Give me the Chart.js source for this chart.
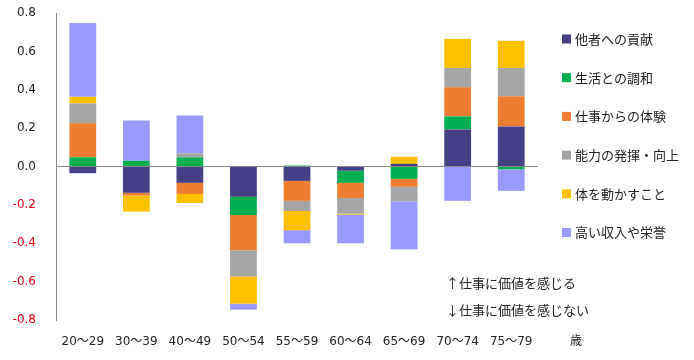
<!DOCTYPE html>
<html>
<head>
<meta charset="utf-8">
<script src="https://cdn.jsdelivr.net/npm/chart.js@4/dist/chart.umd.min.js"></script>
<style>
  html, body { margin: 0; padding: 0; background: #fff; }
  #wrap { width: 694px; height: 360px; }
</style>
</head>
<body>
<div id="wrap"><canvas id="workChart" width="694" height="360"></canvas></div>
<script>
const ageGroups = ['20〜29', '30〜39', '40〜49', '50〜54', '55〜59', '60〜64', '65〜69', '70〜74', '75〜79'];

const seriesNames = ['他者への貢献', '生活との調和', '仕事からの体験', '能力の発揮・向上', '体を動かすこと', '高い収入や栄誉'];
const seriesColors = ['#453F85', '#00B050', '#ED7D31', '#A5A5A5', '#FFC000', '#9999FF'];

const contribution = [-0.035, -0.137, -0.085, -0.158, -0.075, -0.022, 0.014, 0.193, 0.209];
const lifeBalance  = [0.048, 0.030, 0.048, -0.095, 0.005, -0.063, -0.064, 0.068, -0.015];
const experience   = [0.178, -0.014, -0.058, -0.184, -0.104, -0.079, -0.042, 0.152, 0.157];
const ability      = [0.102, 0.000, 0.021, -0.136, -0.053, -0.082, -0.075, 0.100, 0.147];
const bodyMove     = [0.035, -0.084, -0.047, -0.142, -0.100, -0.005, 0.037, 0.152, 0.142];
const incomeHonor  = [0.385, 0.210, 0.197, -0.031, -0.068, -0.149, -0.250, -0.179, -0.112];

const seriesValues = [contribution, lifeBalance, experience, ability, bodyMove, incomeHonor];

const jpFont = '"Noto Sans CJK JP", "DejaVu Sans", sans-serif';

// legend + side notes drawn by hand (Excel-like spacing)
const sideText = {
    id: 'sideText',
    afterDraw(chart) {
        const c = chart.ctx;
        c.save();
        c.textBaseline = 'middle';
        c.font = '13px ' + jpFont;
        chart.data.datasets.forEach((ds, i) => {
            const y = 39 + i * 38.7;
            c.fillStyle = ds.backgroundColor;
            c.fillRect(562, y - 4.5, 9, 9);
            c.fillStyle = '#222';
            c.textAlign = 'left';
            c.fillText(ds.label, 575, y);
        });
        c.fillText('↑仕事に価値を感じる', 446, 283);
        c.fillText('↓仕事に価値を感じない', 446, 310);
        c.font = '12px ' + jpFont;
        c.textAlign = 'center';
        c.fillText('歳', 576, 340);
        c.restore();
    }
};

new Chart(document.getElementById('workChart').getContext('2d'), {
    type: 'bar',
    data: {
        labels: ageGroups,
        datasets: seriesNames.map((name, i) => ({
            label: name,
            data: seriesValues[i],
            backgroundColor: seriesColors[i],
            borderWidth: 0,
            categoryPercentage: 1,
            barPercentage: 0.5,
        }))
    },
    options: {
        responsive: false,
        animation: false,
        layout: {
            padding: { left: 0, right: 156, top: 13, bottom: 0 }
        },
        scales: {
            x: {
                stacked: true,
                grid: { display: false },
                border: { display: false },
                afterFit: s => { s.height = 40; },
                ticks: {
                    color: '#222',
                    padding: 7,
                    maxRotation: 0,
                    font: { size: 12, family: '"DejaVu Sans", "Noto Sans CJK JP", sans-serif' }
                }
            },
            y: {
                stacked: true,
                min: -0.8,
                max: 0.8,
                afterFit: s => { s.width = 56; s.paddingTop = 0; s.paddingBottom = 0; },
                border: { display: true, color: '#888', width: 1 },
                grid: {
                    drawTicks: false,
                    color: ctx => Math.abs(ctx.tick.value) < 1e-9 ? '#888' : 'rgba(0,0,0,0)',
                    lineWidth: 1
                },
                ticks: {
                    stepSize: 0.2,
                    padding: 20,
                    color: ctx => ctx.tick.value < -1e-9 ? '#E8001A' : '#222',
                    font: { size: 12, family: '"DejaVu Sans", sans-serif' },
                    callback: v => v.toFixed(1)
                }
            }
        },
        plugins: {
            legend: { display: false },
            tooltip: { enabled: false }
        }
    },
    plugins: [sideText]
});
</script>
</body>
</html>
